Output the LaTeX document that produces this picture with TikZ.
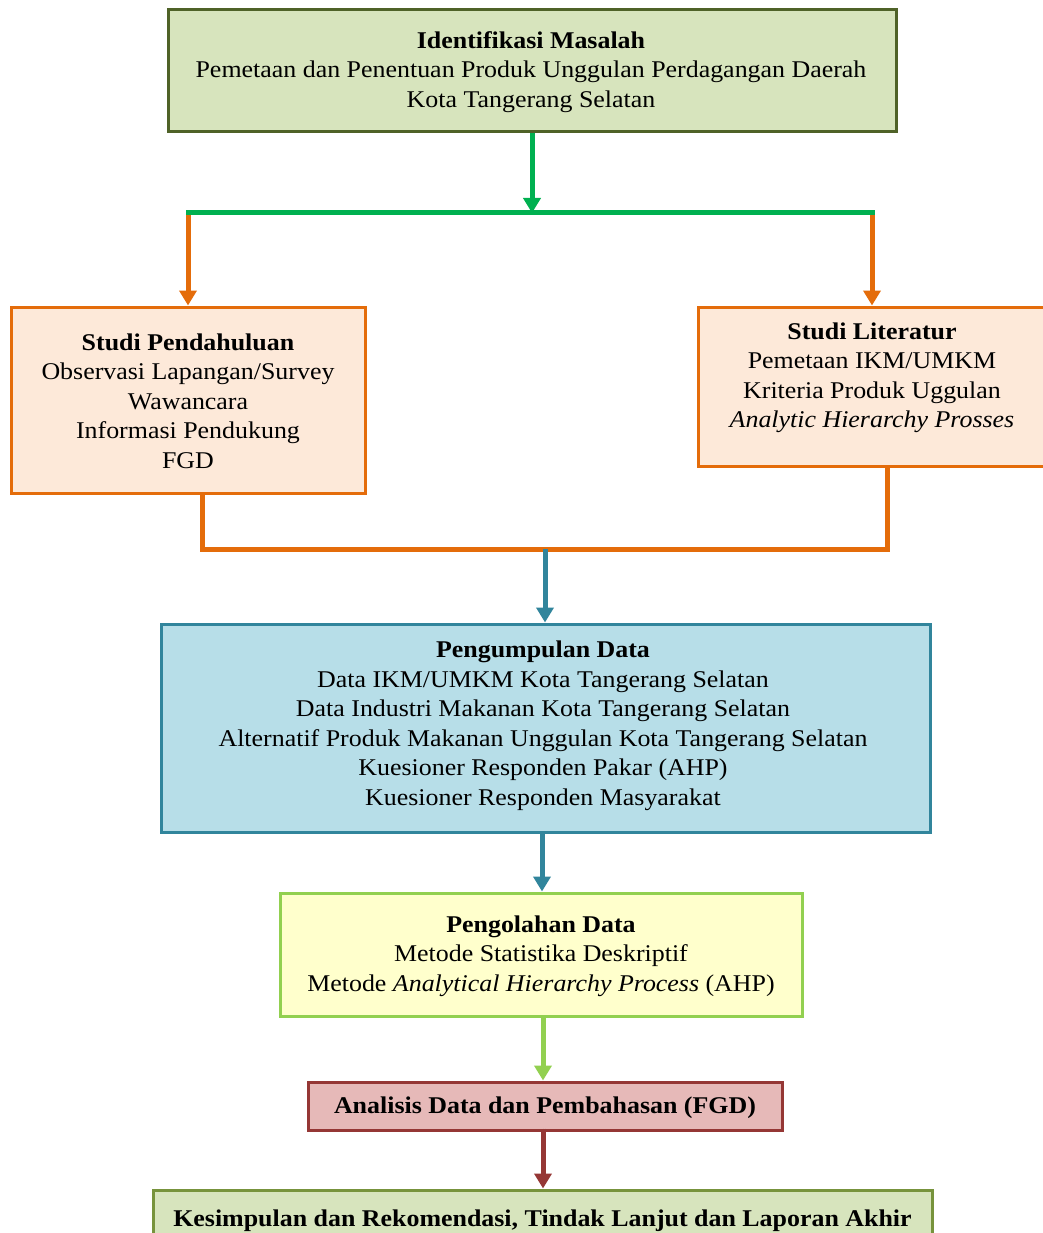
\documentclass[tikz,border=0pt]{standalone}
\usepackage{fontspec}
\setmainfont{Liberation Serif}[FakeStretch=1.08]
\usetikzlibrary{arrows.meta}
\definecolor{gfill}{HTML}{D7E4BD}
\definecolor{gdark}{HTML}{4F6228}
\definecolor{gline}{HTML}{00B050}
\definecolor{ofill}{HTML}{FDE9D9}
\definecolor{oline}{HTML}{E46C0A}
\definecolor{bfill}{HTML}{B7DEE8}
\definecolor{bline}{HTML}{31859C}
\definecolor{yfill}{HTML}{FFFFCC}
\definecolor{lgreen}{HTML}{92D050}
\definecolor{rfill}{HTML}{E6B9B8}
\definecolor{rline}{HTML}{953735}
\definecolor{kline}{HTML}{77933C}
\tikzset{
  box/.style={draw, line width=3pt, rectangle, inner sep=0pt},
  txt/.style={align=center, font=\fontsize{24}{29.5}\selectfont, inner sep=0pt},
  conn/.style={line width=5pt},
  arr/.style={conn, -{Triangle[width=17pt,length=15pt]}},
}
\begin{document}
\begin{tikzpicture}[x=1pt,y=-1pt]
\useasboundingbox (0,0) rectangle (1043,1233);
\clip (0,0) rectangle (1043,1233);
% boxes
\node[box, fill=gfill, draw=gdark, minimum width=728pt, minimum height=122pt] (ident) at (532,71) {};
\node[txt] (identt) at (531,72) {\textbf{Identifikasi Masalah}\\Pemetaan dan Penentuan Produk Unggulan Perdagangan Daerah\\Kota Tangerang Selatan};
\node[box, fill=ofill, draw=oline, minimum width=354pt, minimum height=186pt] (pend) at (188,400) {};
\node[txt] (pendt) at (188,401) {\textbf{Studi Pendahuluan}\\Observasi Lapangan/Survey\\Wawancara\\Informasi Pendukung\\FGD};
\node[box, fill=ofill, draw=oline, minimum width=348pt, minimum height=159pt] (lit) at (872,386.5) {};
\node[txt] (litt) at (872,378) {\textbf{Studi Literatur}\\Pemetaan IKM/UMKM\\Kriteria Produk Uggulan\\\textit{Analytic Hierarchy Prosses}};
\node[box, fill=bfill, draw=bline, minimum width=769pt, minimum height=208pt] (kumpul) at (545.5,728) {};
\node[txt] (kumpult) at (543,726) {\textbf{Pengumpulan Data}\\Data IKM/UMKM Kota Tangerang Selatan\\Data Industri Makanan Kota Tangerang Selatan\\Alternatif Produk Makanan Unggulan Kota Tangerang Selatan\\Kuesioner Responden Pakar (AHP)\\Kuesioner Responden Masyarakat};
\node[box, fill=yfill, draw=lgreen, minimum width=522pt, minimum height=123pt] (olah) at (541,954.5) {};
\node[txt] (olaht) at (541,956) {\textbf{Pengolahan Data}\\Metode Statistika Deskriptif\\Metode \textit{Analytical Hierarchy Process} (AHP)};
\node[box, fill=rfill, draw=rline, minimum width=474pt, minimum height=48pt] (anal) at (545,1106) {};
\node[txt] (analt) at (545,1108) {\textbf{Analisis Data dan Pembahasan (FGD)}};
\node[box, fill=gfill, draw=kline, minimum width=779pt, minimum height=80pt] (kes) at (542.5,1230) {};
\node[txt, anchor=base] (kest) at (542.5,1226) {\textbf{Kesimpulan dan Rekomendasi, Tindak Lanjut dan Laporan Akhir}};
% junction coordinates
\coordinate (j1) at (532,213);
\coordinate (jl) at (188,213);
\coordinate (jr) at (872,213);
\coordinate (b1) at (202,549);
\coordinate (b2) at (887,549);
\coordinate (bm) at (545,549);
% connectors
\draw[arr, draw=gline, fill=gline] (ident.south -| j1) -- (j1);
\draw[arr, draw=oline, fill=oline] (jl) -- (pend.north);
\draw[arr, draw=oline, fill=oline] (jr) -- (lit.north);
\draw[conn, draw=gline, line cap=rect] (jl) -- (jr);
\draw[conn, draw=oline] (pend.south -| b1) -- (b1) -- (b2) -- (lit.south -| b2);
\draw[arr, draw=bline, fill=bline] (bm) -- (kumpul.north -| bm);
\draw[arr, draw=bline, fill=bline] (kumpul.south -| 542,0) -- (olah.north -| 542,0);
\draw[arr, draw=lgreen, fill=lgreen] (olah.south -| 543,0) -- (anal.north -| 543,0);
\draw[arr, draw=rline, fill=rline] ([yshift=3pt]anal.south -| 543,0) -- (kes.north -| 543,0);
\end{tikzpicture}
\end{document}
